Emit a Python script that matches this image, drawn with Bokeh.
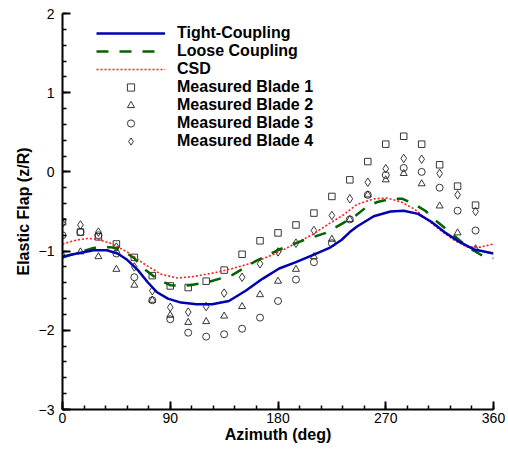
from bokeh.plotting import figure
from bokeh.models import Range1d, SingleIntervalTicker, Legend, LegendItem
from bokeh.embed import file_html
from bokeh.resources import INLINE

# ---- data ----
tight_az = [0, 12, 26, 37, 46, 54, 63, 71, 79, 88, 99, 112, 125, 139, 153, 167, 181, 195,
            209, 223, 233, 240, 246, 260, 274, 285, 297, 308, 319, 330, 344, 360]
tight_val = [-1.07, -1.03, -0.99, -0.99, -1.03, -1.11, -1.24, -1.39, -1.52, -1.60, -1.65,
             -1.67, -1.67, -1.63, -1.50, -1.35, -1.22, -1.14, -1.05, -0.96, -0.86, -0.76,
             -0.69, -0.56, -0.50, -0.49, -0.53, -0.63, -0.76, -0.87, -0.98, -1.03]

loose_az = [0, 15, 26, 40, 49, 60, 67, 79, 90, 100, 106, 122, 142, 161, 181, 200, 220, 234,
            245, 255, 263, 274, 284, 294, 303, 313, 322, 333, 341, 352, 360]
loose_val = [-1.08, -1.01, -0.96, -0.95, -0.98, -1.09, -1.21, -1.35, -1.43, -1.44, -1.43,
             -1.39, -1.30, -1.13, -0.98, -0.87, -0.77, -0.65, -0.55, -0.43, -0.38, -0.34,
             -0.34, -0.41, -0.49, -0.63, -0.74, -0.88, -0.97, -1.07, -1.09]

csd_az = [0, 12, 21, 29, 40, 54, 68, 82, 96, 110, 128, 142, 156, 167, 181, 195, 209, 223,
          234, 246, 260, 271, 283, 294, 305, 316, 327, 338, 349, 360]
csd_val = [-0.91, -0.86, -0.84, -0.85, -0.90, -1.01, -1.16, -1.29, -1.34, -1.32, -1.27,
           -1.22, -1.16, -1.10, -1.01, -0.90, -0.79, -0.65, -0.55, -0.41, -0.34, -0.33,
           -0.38, -0.47, -0.61, -0.74, -0.86, -0.95, -0.95, -0.91]

meas_az = [0, 15, 30, 45, 60, 75, 90, 105, 120, 135, 150, 165, 180, 195, 210, 225, 240, 255,
           270, 285, 300, 315, 330, 345]
blade1 = [-0.63, -0.76, -0.82, -0.91, -1.08, -1.31, -1.44, -1.46, -1.38, -1.24, -1.04, -0.87,
          -0.77, -0.67, -0.52, -0.31, -0.10, 0.13, 0.35, 0.45, 0.35, 0.09, -0.18, -0.42]
blade2 = [-1.05, -1.01, -1.07, -1.23, -1.43, -1.62, -1.81, -1.90, -1.89, -1.82, -1.70, -1.55,
          -1.38, -1.23, -1.07, -0.85, -0.60, -0.29, -0.10, -0.02, -0.15, -0.43, -0.77, -0.97]
blade3 = [-0.80, -0.76, -0.80, -1.03, -1.33, -1.62, -1.86, -2.03, -2.08, -2.05, -1.98, -1.84,
          -1.63, -1.36, -1.14, -0.90, -0.60, -0.29, -0.04, 0.05, 0.00, -0.20, -0.49, -0.74]
blade4 = [-0.65, -0.67, -0.76, -0.95, -1.20, -1.50, -1.71, -1.77, -1.70, -1.53, -1.33, -1.16,
          -1.01, -0.90, -0.74, -0.55, -0.34, -0.13, 0.04, 0.17, 0.16, -0.02, -0.29, -0.50]

FONT = "Liberation Sans"

p = figure(width=505, height=452, output_backend="svg", toolbar_location=None,
           x_range=Range1d(0, 360), y_range=Range1d(-3, 2),
           min_border_left=62, min_border_right=12, min_border_top=13, min_border_bottom=43)
p.outline_line_color = None
p.xgrid.visible = False
p.ygrid.visible = False
p.background_fill_color = "white"
p.border_fill_color = "white"

p.xaxis.ticker = SingleIntervalTicker(interval=90, num_minor_ticks=5)
p.yaxis.ticker = SingleIntervalTicker(interval=1, num_minor_ticks=5)
for ax in (p.xaxis[0], p.yaxis[0]):
    ax.axis_line_width = 2
    ax.axis_line_color = "black"
    ax.major_tick_in = 8
    ax.major_tick_out = 0
    ax.minor_tick_in = 4
    ax.minor_tick_out = 0
    ax.major_tick_line_width = 2
    ax.minor_tick_line_width = 1.5
    ax.major_tick_line_color = "black"
    ax.minor_tick_line_color = "black"
    ax.major_label_text_font = FONT
    ax.major_label_text_font_size = "14px"
    ax.major_label_text_color = "black"
    ax.axis_label_text_font = FONT
    ax.axis_label_text_font_size = "16px"
    ax.axis_label_text_font_style = "bold"
    ax.axis_label_text_color = "black"

p.xaxis.axis_label = "Azimuth (deg)"
p.yaxis.axis_label = "Elastic Flap (z/R)"
p.xaxis.major_label_standoff = 3
p.xaxis.axis_label_standoff = 0
p.yaxis.major_label_standoff = 8
p.yaxis.axis_label_standoff = 4

mc = "#222222"
r_b1 = p.scatter(meas_az, blade1, marker="square", size=6.5, fill_color=None, line_color=mc, line_width=0.9)
r_b2 = p.scatter(meas_az, blade2, marker="triangle", size=7, fill_color=None, line_color=mc, line_width=0.9)
r_b3 = p.scatter(meas_az, blade3, marker="circle", size=7, fill_color=None, line_color=mc, line_width=0.9)
r_b4 = p.scatter(meas_az, blade4, marker="diamond", size=8.5, fill_color=None, line_color=mc, line_width=0.9)

r_csd = p.line(csd_az, csd_val, line_color="#ff1a1a", line_width=1.6, line_dash="2 2")
r_loose = p.line(loose_az, loose_val, line_color="#006400", line_width=2.5, line_dash="12 11")
r_tight = p.line(tight_az, tight_val, line_color="#0000b0", line_width=2.5)

legend = Legend(items=[
    LegendItem(label="Tight-Coupling", renderers=[r_tight]),
    LegendItem(label="Loose Coupling", renderers=[r_loose]),
    LegendItem(label="CSD", renderers=[r_csd]),
    LegendItem(label="Measured Blade 1", renderers=[r_b1]),
    LegendItem(label="Measured Blade 2", renderers=[r_b2]),
    LegendItem(label="Measured Blade 3", renderers=[r_b3]),
    LegendItem(label="Measured Blade 4", renderers=[r_b4]),
], location=(34, 259))
legend.padding = 0
legend.margin = 0
legend.spacing = 0
legend.glyph_width = 69
legend.glyph_height = 18
legend.label_height = 18
legend.label_standoff = 12
legend.label_text_font = FONT
legend.label_text_font_size = "16px"
legend.label_text_font_style = "bold"
legend.label_text_color = "black"
legend.background_fill_alpha = 0
legend.border_line_alpha = 0
p.add_layout(legend, "center")

open("out.html", "w").write(file_html(p, INLINE))
